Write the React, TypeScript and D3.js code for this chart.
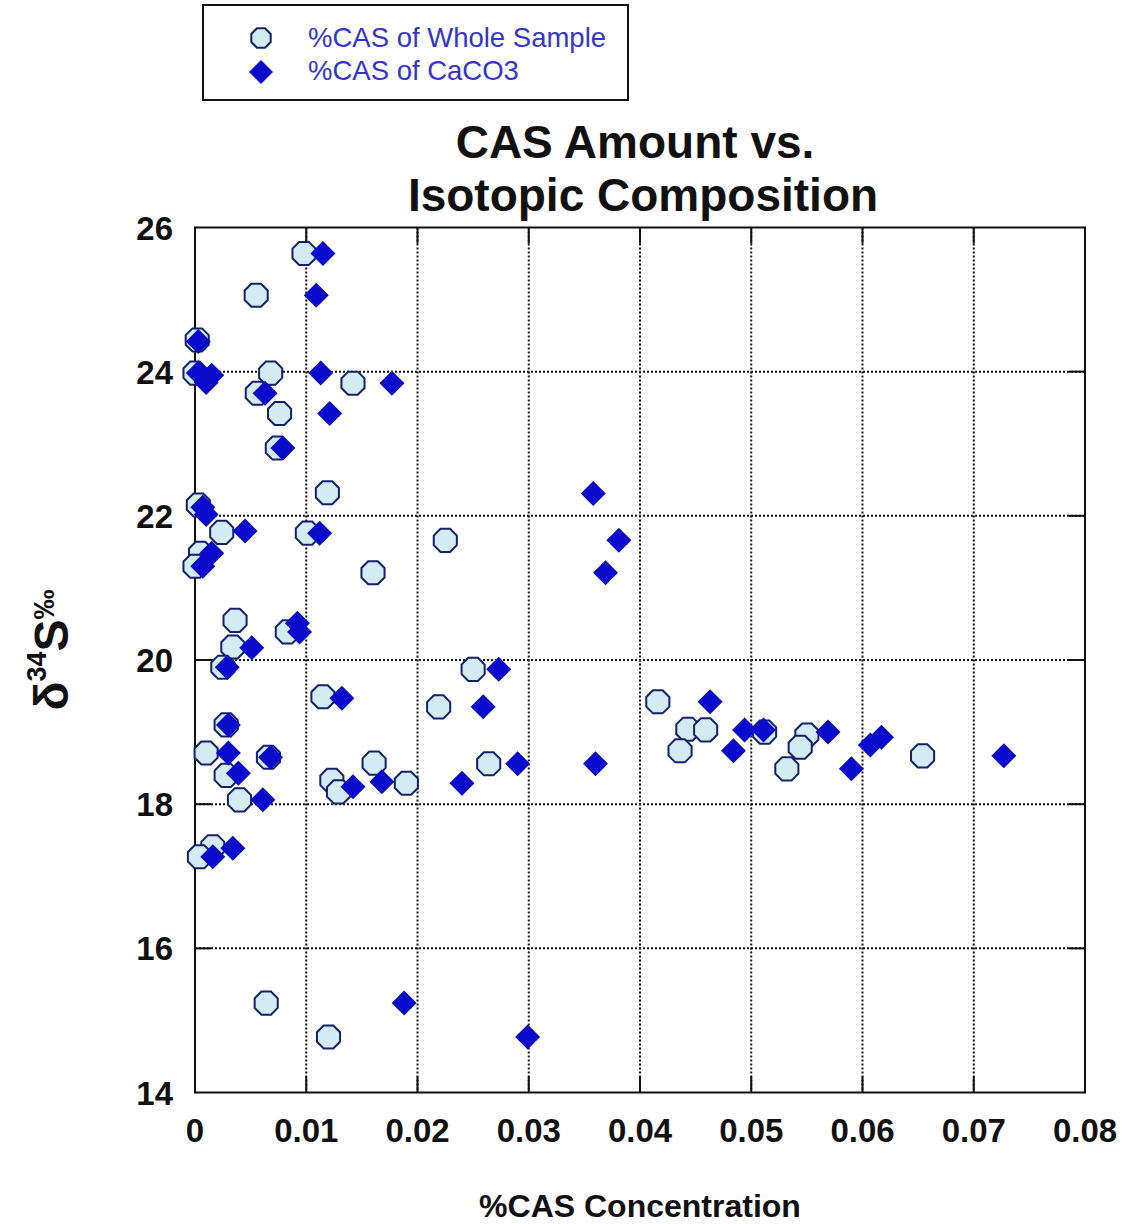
import { useEffect, useRef } from "react";
import * as d3 from "d3";

// %CAS of whole sample (x = %CAS, y = d34S)
const wholeX = [
  0.0098, 0.0055, 0.0002, 0.0, 0.0068, 0.0142, 0.0056, 0.0076, 0.0074, 0.0119,
  0.0003, 0.0024, 0.0101, 0.0225, 0.0005, 0.0, 0.016, 0.0036, 0.0083, 0.0034,
  0.0025, 0.025, 0.0115, 0.0416, 0.0219, 0.0028, 0.0443, 0.0459, 0.0512, 0.055,
  0.0544, 0.0436, 0.001, 0.0066, 0.0654, 0.0161, 0.0264, 0.0532, 0.0028, 0.0123,
  0.019, 0.0129, 0.004, 0.0016, 0.0004, 0.0064, 0.012,
];
const wholeY = [
  25.64, 25.06, 24.44, 23.98, 23.98, 23.84, 23.7, 23.42, 22.94, 22.32,
  22.15, 21.77, 21.76, 21.66, 21.48, 21.3, 21.21, 20.55, 20.39, 20.18,
  19.9, 19.87, 19.49, 19.42, 19.35, 19.1, 19.04, 19.03, 19.0, 18.96,
  18.79, 18.74, 18.71, 18.65, 18.67, 18.57, 18.56, 18.49, 18.4, 18.33,
  18.29, 18.17, 18.06, 17.41, 17.27, 15.24, 14.77,
];

// %CAS of CaCO3
const carbX = [
  0.0115, 0.0109, 0.0003, 0.0003, 0.0015, 0.001, 0.0113, 0.0177, 0.0063, 0.0121,
  0.0079, 0.0007, 0.001, 0.0045, 0.0112, 0.0358, 0.0381, 0.0015, 0.0007, 0.0369,
  0.0092, 0.0094, 0.0051, 0.0029, 0.0273, 0.0132, 0.0463, 0.0259, 0.003, 0.0494,
  0.0511, 0.0569, 0.0617, 0.0607, 0.0484, 0.003, 0.0068, 0.0727, 0.029, 0.036,
  0.059, 0.0039, 0.0168, 0.024, 0.0142, 0.0061, 0.0034, 0.0016, 0.0188, 0.0299,
];
const carbY = [
  25.64, 25.06, 24.42, 23.98, 23.95, 23.85, 23.98, 23.84, 23.7, 23.42,
  22.94, 22.12, 22.02, 21.79, 21.76, 22.31, 21.66, 21.48, 21.3, 21.21,
  20.51, 20.39, 20.17, 19.9, 19.87, 19.47, 19.42, 19.35, 19.1, 19.03,
  19.03, 19.0, 18.93, 18.82, 18.74, 18.71, 18.65, 18.67, 18.56, 18.56,
  18.49, 18.43, 18.31, 18.29, 18.24, 18.06, 17.39, 17.27, 15.24, 14.77,
];

const xTicks = [0, 0.01, 0.02, 0.03, 0.04, 0.05, 0.06, 0.07, 0.08];
const yTicks = [14, 16, 18, 20, 22, 24, 26];
const legendLabels = ["%CAS of Whole Sample", "%CAS of CaCO3"];

const octagon = {
  draw(ctx: any, r: number) {
    for (let i = 0; i < 8; i++) {
      const a = ((i + 0.5) * Math.PI) / 4;
      const px = r * Math.cos(a);
      const py = r * Math.sin(a);
      if (i === 0) ctx.moveTo(px, py);
      else ctx.lineTo(px, py);
    }
    ctx.closePath();
  },
};
const diamond = {
  draw(ctx: any, r: number) {
    ctx.moveTo(0, -r);
    ctx.lineTo(r, 0);
    ctx.lineTo(0, r);
    ctx.lineTo(-r, 0);
    ctx.closePath();
  },
};

const CIRCLE_FILL = "#d3ebf3";
const CIRCLE_STROKE = "#14206e";
const DIAMOND_FILL = "#0a0acc";
const FONT = "'Liberation Sans', Arial, sans-serif";

export default function App() {
  const svgRef = useRef<SVGSVGElement>(null);

  useEffect(() => {
    if (!svgRef.current) return;
    const width = 1122;
    const height = 1224;
    const margin = { top: 227.5, right: 1122 - 1085, bottom: 1224 - 1092.5, left: 195 };

    const svg = d3.select(svgRef.current);
    svg.selectAll("*").remove();
    svg.attr("width", width).attr("height", height);

    const x = d3.scaleLinear().domain([0, 0.08]).range([margin.left, width - margin.right]);
    const y = d3.scaleLinear().domain([14, 26]).range([height - margin.bottom, margin.top]);
    const [x0, x1] = x.range();
    const [y0, y1] = y.range();

    svg.append("rect").attr("width", width).attr("height", height).attr("fill", "#fff");

    // Grid lines (dotted)
    const grid = svg.append("g").attr("stroke", "#111").attr("stroke-width", 2).attr("stroke-dasharray", "2,2");
    grid
      .selectAll("line.vx")
      .data(xTicks.slice(1, -1))
      .join("line")
      .attr("x1", (d) => x(d))
      .attr("x2", (d) => x(d))
      .attr("y1", y1)
      .attr("y2", y0);
    grid
      .selectAll("line.hy")
      .data(yTicks.slice(1, -1))
      .join("line")
      .attr("x1", x0)
      .attr("x2", x1)
      .attr("y1", (d) => y(d))
      .attr("y2", (d) => y(d));

    // Inner tick marks on all four sides
    const tickLen = 16;
    const ticks = svg.append("g").attr("stroke", "#111").attr("stroke-width", 2);
    xTicks.slice(1, -1).forEach((t) => {
      ticks.append("line").attr("x1", x(t)).attr("x2", x(t)).attr("y1", y0).attr("y2", y0 - tickLen);
      ticks.append("line").attr("x1", x(t)).attr("x2", x(t)).attr("y1", y1).attr("y2", y1 + tickLen);
    });
    yTicks.slice(1, -1).forEach((t) => {
      ticks.append("line").attr("x1", x0).attr("x2", x0 + tickLen).attr("y1", y(t)).attr("y2", y(t));
      ticks.append("line").attr("x1", x1).attr("x2", x1 - tickLen).attr("y1", y(t)).attr("y2", y(t));
    });

    // Frame
    svg
      .append("rect")
      .attr("x", x0)
      .attr("y", y1)
      .attr("width", x1 - x0)
      .attr("height", y0 - y1)
      .attr("fill", "none")
      .attr("stroke", "#111")
      .attr("stroke-width", 2);

    // Tick labels
    svg
      .append("g")
      .selectAll("text")
      .data(xTicks)
      .join("text")
      .attr("x", (d) => x(d))
      .attr("y", y0 + 49)
      .attr("text-anchor", "middle")
      .attr("font-family", FONT)
      .attr("font-weight", "bold")
      .attr("font-size", 33)
      .attr("fill", "#111")
      .text((d) => (d === 0 ? "0" : d3.format(".2f")(d)));
    svg
      .append("g")
      .selectAll("text")
      .data(yTicks)
      .join("text")
      .attr("x", x0 - 22)
      .attr("y", (d) => y(d) + 12)
      .attr("text-anchor", "end")
      .attr("font-family", FONT)
      .attr("font-weight", "bold")
      .attr("font-size", 33)
      .attr("fill", "#111")
      .text((d) => d);

    // Points
    const octPath = d3.symbol(octagon as any, 12.5)();
    const diaPath = d3.symbol(diamond as any, 12.5)();
    svg
      .append("g")
      .selectAll("path")
      .data(wholeX.map((v, i) => [v, wholeY[i]]))
      .join("path")
      .attr("d", octPath)
      .attr("transform", (d) => `translate(${x(d[0])},${y(d[1])})`)
      .attr("fill", CIRCLE_FILL)
      .attr("stroke", CIRCLE_STROKE)
      .attr("stroke-width", 2);
    svg
      .append("g")
      .selectAll("path")
      .data(carbX.map((v, i) => [v, carbY[i]]))
      .join("path")
      .attr("d", diaPath)
      .attr("transform", (d) => `translate(${x(d[0])},${y(d[1])})`)
      .attr("fill", DIAMOND_FILL);

    // Title
    const title = svg
      .append("text")
      .attr("text-anchor", "middle")
      .attr("font-family", FONT)
      .attr("font-weight", "bold")
      .attr("font-size", 46)
      .attr("fill", "#111");
    title.append("tspan").attr("x", 635).attr("y", 158).text("CAS Amount vs.");
    title.append("tspan").attr("x", 643).attr("y", 211).text("Isotopic Composition");

    // Axis titles
    svg
      .append("text")
      .attr("x", 640)
      .attr("y", 1217)
      .attr("text-anchor", "middle")
      .attr("font-family", FONT)
      .attr("font-weight", "bold")
      .attr("font-size", 32)
      .attr("fill", "#111")
      .text("%CAS Concentration");

    const yt = svg
      .append("text")
      .attr("transform", "translate(68,650) rotate(-90)")
      .attr("text-anchor", "middle")
      .attr("font-family", FONT)
      .attr("font-weight", "bold")
      .attr("fill", "#111");
    yt.append("tspan").attr("font-size", 48).text("δ");
    yt.append("tspan").attr("font-size", 27).attr("dy", -22).text("34");
    yt.append("tspan").attr("font-size", 48).attr("dy", 22).text("S");
    yt.append("tspan").attr("font-size", 30).attr("dy", -14).text("‰");

    // Legend
    const lg = svg.append("g");
    lg.append("rect")
      .attr("x", 203)
      .attr("y", 5)
      .attr("width", 425)
      .attr("height", 95)
      .attr("fill", "#fff")
      .attr("stroke", "#111")
      .attr("stroke-width", 2);
    lg.append("path").attr("d", d3.symbol(octagon as any, 10.5)()).attr("transform", "translate(261,38)")
      .attr("fill", CIRCLE_FILL).attr("stroke", CIRCLE_STROKE).attr("stroke-width", 2);
    lg.append("path").attr("d", d3.symbol(diamond as any, 12)()).attr("transform", "translate(261,72)")
      .attr("fill", DIAMOND_FILL);
    lg.selectAll("text.lab")
      .data(legendLabels)
      .join("text")
      .attr("x", 308)
      .attr("y", (_, i) => 47 + i * 33)
      .attr("font-family", FONT)
      .attr("font-size", 27.5)
      .attr("fill", "#3434d0")
      .text((d) => d);
  }, []);

  return <svg ref={svgRef} style={{ position: "absolute", left: 0, top: 0 }} />;
}
